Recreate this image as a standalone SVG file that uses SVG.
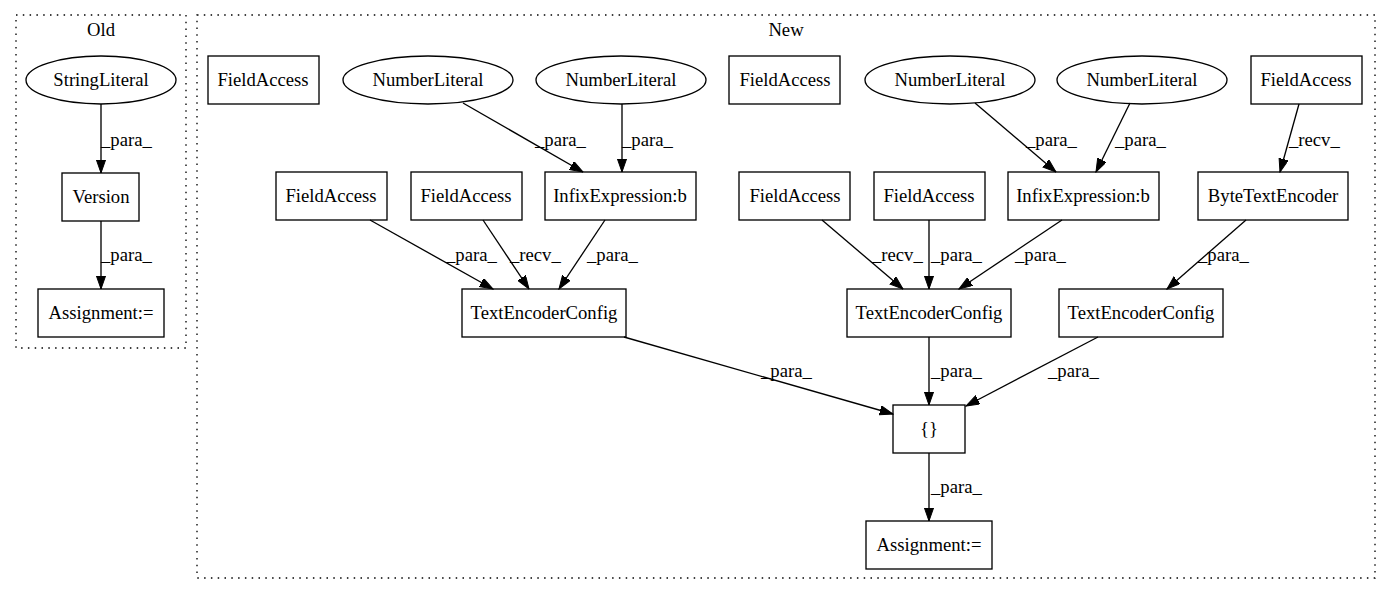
<svg xmlns="http://www.w3.org/2000/svg" width="1389" height="596" viewBox="0 0 1389 596">
<style>
text{font-family:"Liberation Serif","Times New Roman",serif;font-size:18.67px;fill:#000}
.n text,.c text{text-anchor:middle}
.n rect,.n ellipse{fill:none;stroke:#000;stroke-width:1.33}
.cl{fill:none;stroke:#000;stroke-width:1.33;stroke-dasharray:1.5,5.3}
.e path{fill:none;stroke:#000;stroke-width:1.33;marker-end:url(#ah)}
.e text{text-anchor:start}
</style>
<defs>
<marker id="ah" markerUnits="userSpaceOnUse" markerWidth="14" markerHeight="10" refX="13.3" refY="4.67" orient="auto">
<path d="M0,0 L13.3,4.67 L0,9.33 z" fill="#000" stroke="#000" stroke-width="1"/>
</marker>
</defs>
<g id="clusters" class="c">
<rect class="cl" x="16" y="15" width="170" height="333"/>
<text x="101" y="36">Old</text>
<rect class="cl" x="197" y="15" width="1178" height="563"/>
<text x="786" y="36">New</text>
</g>
<g id="edges" class="e">
<path d="M101,104 L101,173"/><text x="101" y="146">_para_</text>
<path d="M101,221 L101,289"/><text x="101" y="261">_para_</text>
<path d="M463,103 L583,172"/><text x="535" y="146">_para_</text>
<path d="M622,104 L622,172"/><text x="622" y="146">_para_</text>
<path d="M975,103 L1056,172"/><text x="1026" y="146">_para_</text>
<path d="M1130,103 L1096,172"/><text x="1115" y="146">_para_</text>
<path d="M1299,104 L1280,172"/><text x="1289" y="146">_recv_</text>
<path d="M370,220 L493,289"/><text x="446" y="261">_para_</text>
<path d="M483,220 L529,289"/><text x="510" y="261">_recv_</text>
<path d="M605,220 L559,289"/><text x="587" y="261">_para_</text>
<path d="M822,220 L903,289"/><text x="872" y="261">_recv_</text>
<path d="M929,220 L929,289"/><text x="931" y="261">_para_</text>
<path d="M1062,220 L959,289"/><text x="1015" y="261">_para_</text>
<path d="M1246,220 L1167,289"/><text x="1198" y="261">_para_</text>
<path d="M624,337 L893,414"/><text x="761" y="377">_para_</text>
<path d="M929,337 L929,405"/><text x="931" y="377">_para_</text>
<path d="M1098,337 L966,406"/><text x="1048" y="377">_para_</text>
<path d="M929,453 L929,521"/><text x="931" y="493">_para_</text>
</g>
<g id="old_StringLiteral" class="n"><ellipse cx="101" cy="80" rx="75" ry="24"/><text x="101" y="86">StringLiteral</text></g>
<g id="old_Version" class="n"><rect x="62" y="173" width="77" height="48"/><text x="101" y="203">Version</text></g>
<g id="old_Assignment" class="n"><rect x="38" y="289" width="126" height="48"/><text x="101" y="319">Assignment:=</text></g>
<g id="n_FA1" class="n"><rect x="208" y="56" width="111" height="48"/><text x="263" y="86">FieldAccess</text></g>
<g id="n_NL1" class="n"><ellipse cx="428" cy="80" rx="85" ry="24"/><text x="428" y="86">NumberLiteral</text></g>
<g id="n_NL2" class="n"><ellipse cx="621" cy="80" rx="85" ry="24"/><text x="621" y="86">NumberLiteral</text></g>
<g id="n_FA2" class="n"><rect x="729" y="56" width="111" height="48"/><text x="785" y="86">FieldAccess</text></g>
<g id="n_NL3" class="n"><ellipse cx="950" cy="80" rx="85" ry="24"/><text x="950" y="86">NumberLiteral</text></g>
<g id="n_NL4" class="n"><ellipse cx="1142" cy="80" rx="85" ry="24"/><text x="1142" y="86">NumberLiteral</text></g>
<g id="n_FA3" class="n"><rect x="1251" y="56" width="111" height="48"/><text x="1306" y="86">FieldAccess</text></g>
<g id="n_FAA" class="n"><rect x="276" y="172" width="111" height="48"/><text x="331" y="202">FieldAccess</text></g>
<g id="n_FAB" class="n"><rect x="411" y="172" width="111" height="48"/><text x="466" y="202">FieldAccess</text></g>
<g id="n_IX1" class="n"><rect x="545" y="172" width="151" height="48"/><text x="620" y="202">InfixExpression:b</text></g>
<g id="n_FAC" class="n"><rect x="739" y="172" width="111" height="48"/><text x="795" y="202">FieldAccess</text></g>
<g id="n_FAD" class="n"><rect x="874" y="172" width="111" height="48"/><text x="929" y="202">FieldAccess</text></g>
<g id="n_IX2" class="n"><rect x="1008" y="172" width="151" height="48"/><text x="1083" y="202">InfixExpression:b</text></g>
<g id="n_BTE" class="n"><rect x="1198" y="172" width="150" height="48"/><text x="1273" y="202">ByteTextEncoder</text></g>
<g id="n_TEC1" class="n"><rect x="462" y="289" width="164" height="48"/><text x="544" y="319">TextEncoderConfig</text></g>
<g id="n_TEC2" class="n"><rect x="847" y="289" width="164" height="48"/><text x="929" y="319">TextEncoderConfig</text></g>
<g id="n_TEC3" class="n"><rect x="1059" y="289" width="164" height="48"/><text x="1141" y="319">TextEncoderConfig</text></g>
<g id="n_Braces" class="n"><rect x="893" y="405" width="72" height="48"/><text x="929" y="435">{}</text></g>
<g id="n_Assignment" class="n"><rect x="866" y="521" width="126" height="48"/><text x="929" y="551">Assignment:=</text></g>
</svg>
